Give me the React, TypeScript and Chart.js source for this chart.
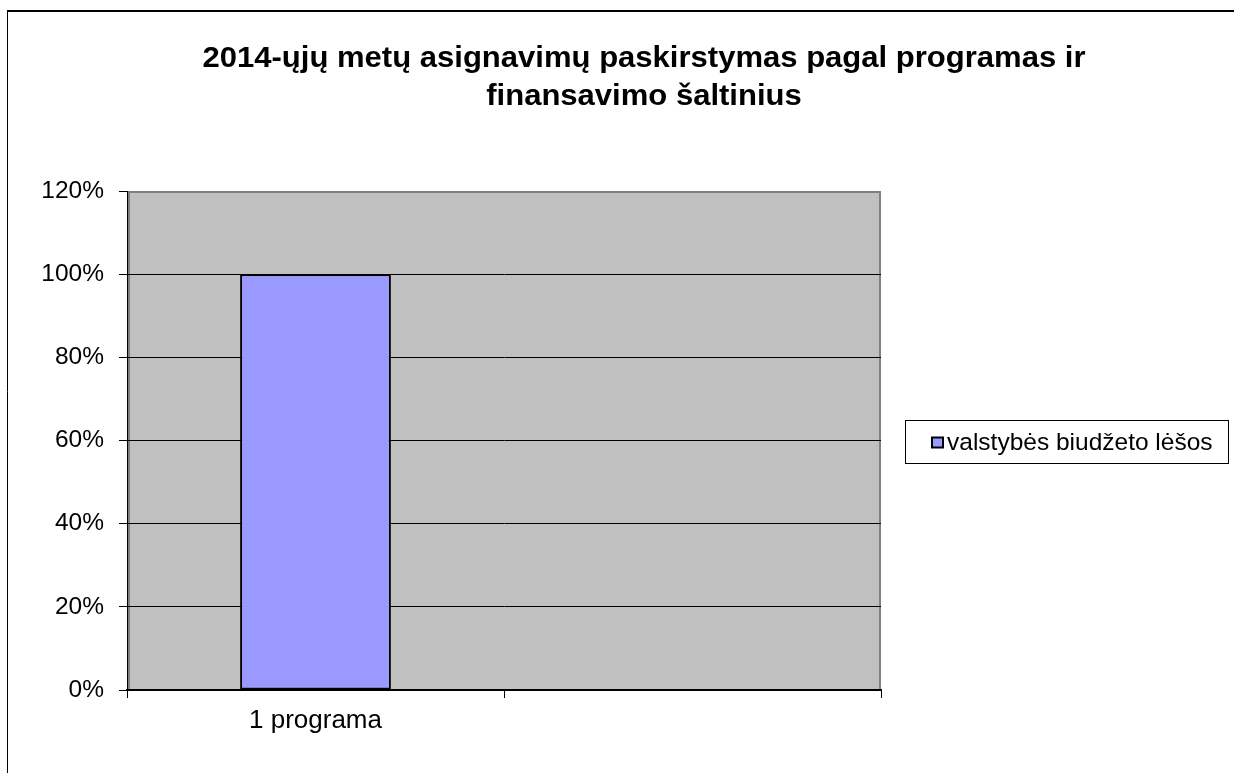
import React, { useEffect, useRef } from "react";
import { Chart, registerables } from "chart.js";

Chart.register(...registerables);

const TITLE_LINES = [
  "2014-ųjų metų asignavimų paskirstymas pagal programas ir",
  "finansavimo šaltinius",
];
const CATEGORIES = ["1 programa", ""];
const SERIES_LABEL = "valstybės biudžeto lėšos";
const SERIES_VALUES = [100, null];
const Y_MIN = 0;
const Y_MAX = 120;
const Y_STEP = 20;

const FONT = "'Liberation Sans', Arial, sans-serif";
const BAR_COLOR = "#9999FF";
const PLOT_BG = "#C0C0C0";
const PLOT_BORDER = "#808080";

const framePlugin = {
  id: "frame",
  beforeDraw(chart: any) {
    const { ctx, chartArea: a } = chart;
    ctx.save();
    ctx.fillStyle = "#ffffff";
    ctx.fillRect(0, 0, chart.width, chart.height);
    ctx.fillStyle = PLOT_BG;
    ctx.fillRect(a.left, a.top, a.right - a.left, a.bottom - a.top);
    ctx.strokeStyle = PLOT_BORDER;
    ctx.lineWidth = 2;
    ctx.beginPath();
    ctx.moveTo(a.left + 2, a.bottom);
    ctx.lineTo(a.left + 2, a.top + 1);
    ctx.lineTo(a.right - 1, a.top + 1);
    ctx.lineTo(a.right - 1, a.bottom);
    ctx.stroke();
    ctx.restore();
  },
  afterDraw(chart: any) {
    const { ctx } = chart;
    ctx.save();
    // outer chart border
    ctx.strokeStyle = "#000";
    ctx.lineWidth = 2;
    ctx.beginPath();
    ctx.moveTo(7, 11);
    ctx.lineTo(chart.width, 11);
    ctx.stroke();
    ctx.lineWidth = 1;
    ctx.beginPath();
    ctx.moveTo(7.5, 10);
    ctx.lineTo(7.5, chart.height);
    ctx.stroke();

    // title
    ctx.fillStyle = "#000";
    ctx.font = `bold 29px ${FONT}`;
    ctx.textAlign = "center";
    ctx.textBaseline = "middle";
    TITLE_LINES.forEach((line, i) => {
      ctx.save();
      ctx.translate(644, 59 + i * 38);
      ctx.scale(1.07, 1);
      ctx.fillText(line, 0, 0);
      ctx.restore();
    });

    // legend
    const ds = chart.data.datasets[0];
    ctx.fillStyle = "#fff";
    ctx.fillRect(905.5, 420.5, 323, 43);
    ctx.strokeStyle = "#000";
    ctx.lineWidth = 1;
    ctx.strokeRect(905.5, 420.5, 323, 43);
    ctx.fillStyle = ds.backgroundColor;
    ctx.fillRect(931, 437, 12, 11);
    ctx.lineWidth = 2;
    ctx.strokeRect(932, 437.5, 11, 10);
    ctx.fillStyle = "#000";
    ctx.font = `24.5px ${FONT}`;
    ctx.textAlign = "left";
    ctx.textBaseline = "middle";
    ctx.fillText(ds.label, 947, 443);
    ctx.restore();
  },
};

export default function App() {
  const ref = useRef<HTMLCanvasElement>(null);
  useEffect(() => {
    if (!ref.current) return;
    const chart = new Chart(ref.current, {
      type: "bar",
      data: {
        labels: CATEGORIES,
        datasets: [
          {
            label: SERIES_LABEL,
            data: SERIES_VALUES,
            backgroundColor: BAR_COLOR,
            borderColor: "#000",
            borderWidth: 2,
            borderSkipped: false,
            barPercentage: 0.4,
            categoryPercentage: 1,
          },
        ],
      },
      plugins: [framePlugin],
      options: {
        responsive: false,
        animation: false,
        devicePixelRatio: 1,
        layout: { padding: { top: 191, left: 0, right: 353, bottom: 0 } },
        plugins: {
          legend: { display: false },
          title: { display: false },
          tooltip: { enabled: false },
        },
        scales: {
          x: {
            type: "category",
            offset: true,
            grid: {
              offset: true,
              drawOnChartArea: false,
              drawTicks: true,
              tickLength: 8,
              color: "#000",
              lineWidth: 1,
            },
            border: { display: true, color: "#000", width: 2 },
            ticks: {
              color: "#000",
              font: { family: FONT, size: 26 },
              padding: 7,
              maxRotation: 0,
              autoSkip: false,
            },
            afterFit(scale: any) {
              scale.height = 83;
            },
          },
          y: {
            min: Y_MIN,
            max: Y_MAX,
            ticks: {
              stepSize: Y_STEP,
              color: "#000",
              font: { family: FONT, size: 24.5 },
              padding: 15,
              callback: (v: any) => `${v}%`,
            },
            grid: {
              color: (c: any) =>
                c.tick && c.tick.value === Y_MAX ? PLOT_BORDER : "#000",
              tickColor: "#000",
              lineWidth: 1,
              drawTicks: true,
              tickLength: 8,
            },
            border: { display: true, color: "#000", width: 1 },
            afterFit(scale: any) {
              scale.width = 127;
            },
          },
        },
      },
    });
    return () => chart.destroy();
  }, []);
  return (
    <div
      style={{
        position: "fixed",
        left: 0,
        top: 0,
        width: 1234,
        height: 773,
        background: "#fff",
      }}
    >
      <canvas ref={ref} width={1234} height={773} style={{ display: "block" }} />
    </div>
  );
}
